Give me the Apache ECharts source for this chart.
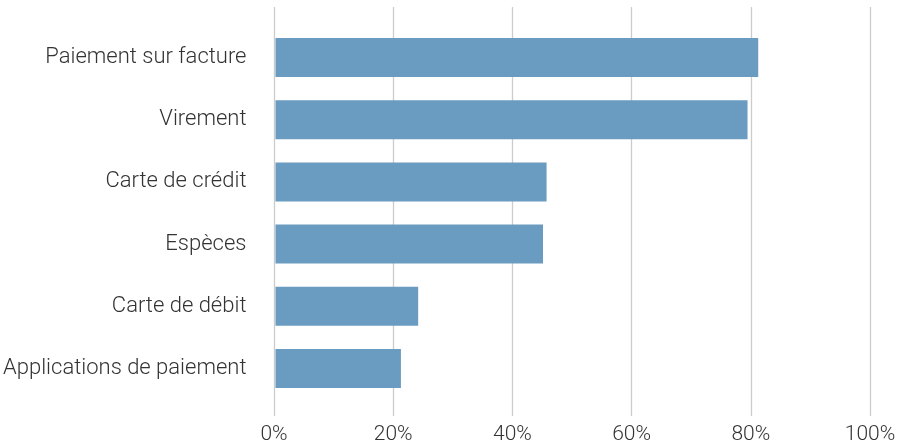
<!DOCTYPE html>
<html><head><meta charset="utf-8">
<script src="https://cdn.jsdelivr.net/npm/echarts@6/dist/echarts.min.js"></script>
<style>html,body{margin:0;padding:0;background:#fff}#c{width:899px;height:445px}</style>
</head><body><div id="c"></div>
<script>
const categories = ["Paiement sur facture","Virement","Carte de crédit","Espèces","Carte de débit","Applications de paiement"];
const values = [81.2, 79.4, 45.6, 45.0, 24.0, 21.1];
const tickValues = [0, 20, 40, 60, 80, 100];

const font = "Roboto";
const chart = echarts.init(document.getElementById('c'), null, {renderer:'canvas'});
chart.setOption({
  animation:false,
  grid:[
    {left:274, right:29, top:7, bottom:28, containLabel:false},
    {left:274, right:29, top:26.4, bottom:45.4, containLabel:false}
  ],
  xAxis:[
    {gridIndex:0, type:'value', min:0, max:100, interval:20,
     axisLine:{show:false}, axisTick:{show:false},
     splitLine:{show:true, lineStyle:{color:'#cccccc', width:1.3}},
     axisLabel:{formatter:v=>v+'%', color:'#333', fontSize:21, fontFamily:font, fontWeight:300, margin:8}},
    {gridIndex:1, type:'value', min:0, max:100, show:false, splitLine:{show:false}}
  ],
  yAxis:[
    {gridIndex:0, type:'value', show:false, splitLine:{show:false}},
    {gridIndex:1, type:'category', data:categories, inverse:true,
     axisLine:{show:false}, axisTick:{show:false},
     axisLabel:{color:'#333', fontSize:22, fontFamily:font, fontWeight:300, margin:29, padding:[5,0,0,0]}}
  ],
  series:[{
    type:'bar', xAxisIndex:1, yAxisIndex:1, data:values, barWidth:39,
    itemStyle:{color:'#6a9bc0'}
  }]
});
</script></body></html>
